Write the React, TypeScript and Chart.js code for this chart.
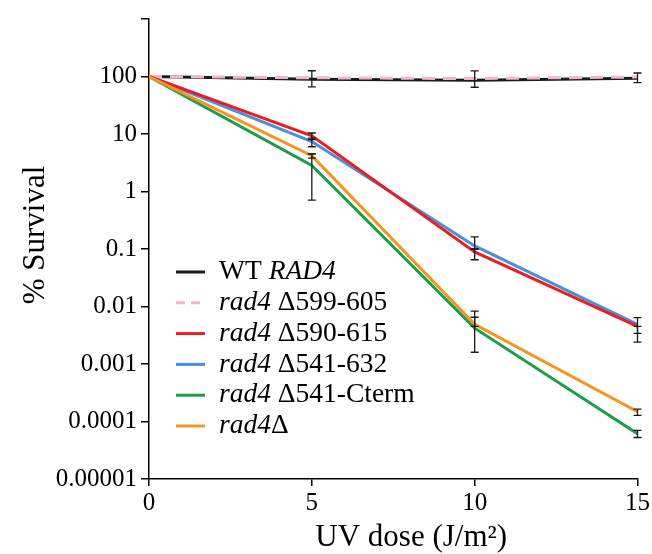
import React, { useEffect, useRef } from "react";
import { Chart, registerables } from "chart.js";

Chart.register(...registerables);

const FONT = '"Liberation Serif", "Times New Roman", serif';

const doses = [0, 5, 10, 15];
const xTicks = [0, 5, 10, 15];
const yTicks = [1e-5, 1e-4, 1e-3, 1e-2, 1e-1, 1, 10, 100, 1000];
const yTickLabels = ["0.00001", "0.0001", "0.001", "0.01", "0.1", "1", "10", "100", ""];

const wtRad4 = [100, 90, 86, 93];
const d599_605 = [100, 95, 92, 98];
const d590_615 = [100, 9.3, 0.089, 0.0045];
const d541_632 = [100, 7.4, 0.113, 0.0049];
const d541_Cterm = [100, 2.85, 0.0042, 0.0000615];
const rad4Del = [100, 4.2, 0.0049, 0.000148];

const wtLow = [null, 66, 65, 78];
const wtHigh = [null, 126, 125, 115];
const d590Low = [null, 8.0, 0.065, 0.0024];
const d590High = [null, 10.4, 0.1, 0.0045];
const d541_632Low = [null, 6.0, 0.1, 0.0034];
const d541_632High = [null, 8.5, 0.163, 0.0064];
const d541CLow = [null, 0.71, 0.0016, 0.0000527];
const d541CHigh = [null, 4.5, 0.0065, 0.00007];
const rad4Low = [null, 3.8, 0.0045, 0.000128];
const rad4High = [null, 4.5, 0.0083, 0.000164];

type Seg = { t: string; i: boolean };
const legendLabels: Seg[][] = [
  [{ t: "WT ", i: false }, { t: "RAD4", i: true }],
  [{ t: "rad4", i: true }, { t: " \u0394599-605", i: false }],
  [{ t: "rad4", i: true }, { t: " \u0394590-615", i: false }],
  [{ t: "rad4", i: true }, { t: " \u0394541-632", i: false }],
  [{ t: "rad4", i: true }, { t: " \u0394541-Cterm", i: false }],
  [{ t: "rad4", i: true }, { t: "\u0394", i: false }],
];

const xTitle = "UV dose (J/m\u00B2)";
const yTitle = "% Survival";

const seriesDefs = [
  { values: wtRad4, color: "#1b1b1b", dash: [] as number[], low: wtLow, high: wtHigh, order: 6 },
  { values: d599_605, color: "#f5b3d2", dash: [13, 8], low: null, high: null, order: 5 },
  { values: d590_615, color: "#ec1c24", dash: [], low: d590Low, high: d590High, order: 3 },
  { values: d541_632, color: "#4a8fd8", dash: [], low: d541_632Low, high: d541_632High, order: 4 },
  { values: d541_Cterm, color: "#1a9e4a", dash: [], low: d541CLow, high: d541CHigh, order: 2 },
  { values: rad4Del, color: "#f7941d", dash: [], low: rad4Low, high: rad4High, order: 1 },
];

export default function App() {
  const ref = useRef<HTMLCanvasElement>(null);

  useEffect(() => {
    document.body.style.margin = "0";
    const canvas = ref.current;
    if (!canvas) return;

    const errorBars = {
      id: "errorBars",
      afterDatasetsDraw(chart: any) {
        const ctx = chart.ctx;
        const xs = chart.scales.x;
        const ys = chart.scales.y;
        ctx.save();
        ctx.strokeStyle = "#1a1a1a";
        ctx.lineWidth = 1.3;
        seriesDefs.forEach((s) => {
          if (!s.low || !s.high) return;
          doses.forEach((d, i) => {
            const lo = s.low![i];
            const hi = s.high![i];
            if (lo == null || hi == null) return;
            const x = xs.getPixelForValue(d);
            const y1 = ys.getPixelForValue(lo);
            const y2 = ys.getPixelForValue(hi);
            ctx.beginPath();
            ctx.moveTo(x, y1);
            ctx.lineTo(x, y2);
            ctx.moveTo(x - 4, y1);
            ctx.lineTo(x + 4, y1);
            ctx.moveTo(x - 4, y2);
            ctx.lineTo(x + 4, y2);
            ctx.stroke();
          });
        });
        ctx.restore();
      },
    };

    const legendAndTitles = {
      id: "legendAndTitles",
      afterDraw(chart: any) {
        const ctx = chart.ctx;
        const area = chart.chartArea;
        ctx.save();
        // legend
        const size = 27.5;
        legendLabels.forEach((segs, k) => {
          const y = 272 + k * 30.8;
          const s = seriesDefs[k];
          ctx.strokeStyle = s.color;
          ctx.lineWidth = 3;
          ctx.setLineDash(s.dash.length ? [9, 6] : []);
          ctx.beginPath();
          ctx.moveTo(area.left + 27, y);
          ctx.lineTo(area.left + 56, y);
          ctx.stroke();
          ctx.setLineDash([]);
          let x = area.left + 70;
          ctx.fillStyle = "#000";
          ctx.textBaseline = "middle";
          ctx.textAlign = "left";
          segs.forEach((seg) => {
            ctx.font = `${seg.i ? "italic " : ""}${size}px ${FONT}`;
            ctx.fillText(seg.t, x, y);
            x += ctx.measureText(seg.t).width;
          });
        });
        // x title
        ctx.font = `31px ${FONT}`;
        ctx.textAlign = "center";
        ctx.textBaseline = "middle";
        ctx.fillText(xTitle, (area.left + area.right) / 2 + 18, 538);
        // y title
        ctx.translate(36, (area.top + area.bottom) / 2 - 14);
        ctx.rotate(-Math.PI / 2);
        ctx.fillText(yTitle, 0, 0);
        ctx.restore();
      },
    };

    const chart = new Chart(canvas, {
      type: "line",
      data: {
        datasets: seriesDefs.map((s, k) => ({
          label: "s" + k,
          data: doses.map((x, i) => ({ x, y: s.values[i] })),
          borderColor: s.color,
          backgroundColor: s.color,
          borderWidth: 3,
          borderDash: s.dash,
          pointRadius: 0,
          fill: false,
          tension: 0,
          order: s.order,
        })),
      },
      options: {
        animation: false,
        responsive: false,
        maintainAspectRatio: false,
        layout: { padding: { top: 14, right: 13, left: 0, bottom: 0 } },
        plugins: { legend: { display: false }, tooltip: { enabled: false } },
        scales: {
          x: {
            type: "linear",
            min: 0,
            max: 15,
            afterBuildTicks: (s: any) => {
              s.ticks = xTicks.map((v) => ({ value: v }));
            },
            afterFit: (s: any) => {
              s.height = 75;
            },
            ticks: {
              color: "#000",
              font: { family: FONT, size: 25 },
              padding: 2,
              maxRotation: 0,
              callback: (v: any) => String(v),
            },
            grid: {
              display: true,
              drawOnChartArea: false,
              drawTicks: true,
              tickLength: 7,
              color: "#000",
              lineWidth: 1.5,
            },
            border: { display: true, color: "#000", width: 1.5 },
          },
          y: {
            type: "logarithmic",
            min: 1e-5,
            max: 1000,
            afterBuildTicks: (s: any) => {
              s.ticks = yTicks.map((v) => ({ value: v }));
            },
            afterFit: (s: any) => {
              s.width = 149;
            },
            ticks: {
              color: "#000",
              font: { family: FONT, size: 25 },
              padding: 4,
              callback: (_v: any, i: number) => yTickLabels[i],
            },
            grid: {
              display: true,
              drawOnChartArea: false,
              drawTicks: true,
              tickLength: 8,
              color: "#000",
              lineWidth: 1.5,
            },
            border: { display: true, color: "#000", width: 1.5 },
          },
        },
      },
      plugins: [errorBars, legendAndTitles],
    } as any);

    return () => chart.destroy();
  }, []);

  return (
    <div style={{ position: "fixed", left: 0, top: 0, width: 652, height: 554 }}>
      <canvas ref={ref} width={652} height={554} style={{ width: 652, height: 554 }} />
    </div>
  );
}
